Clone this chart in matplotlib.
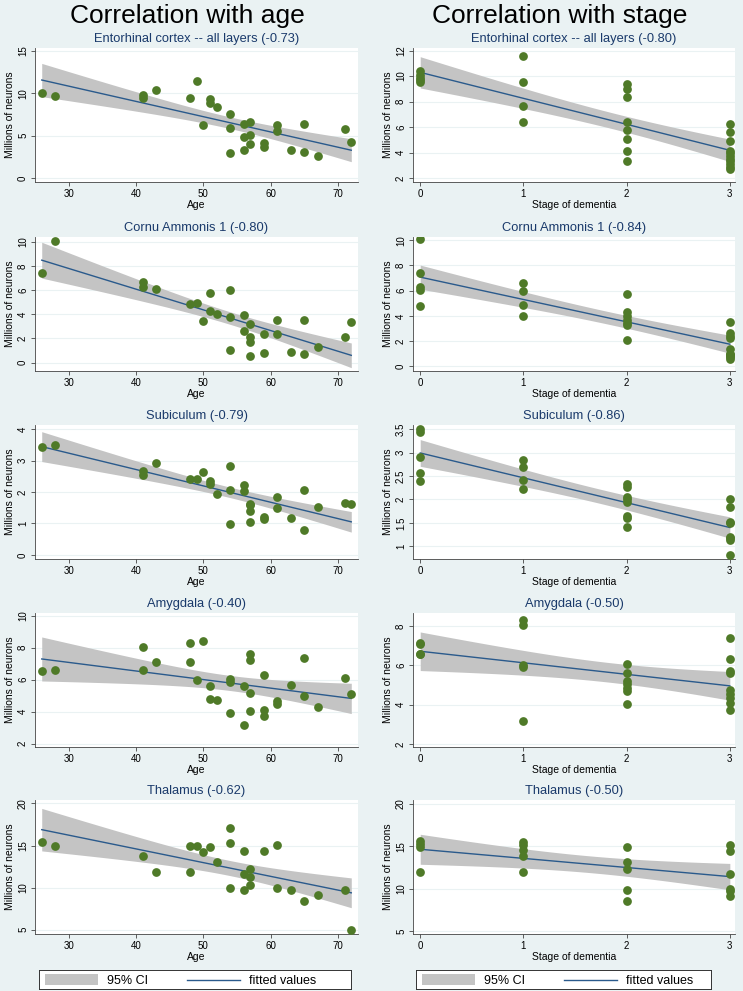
import numpy as np
import matplotlib.pyplot as plt
from matplotlib.patches import Rectangle
from matplotlib.lines import Line2D

plt.rcParams['font.family'] = ['Liberation Sans', 'DejaVu Sans']

# ---- data: correlation with age ----
ent_age = [26, 28, 41, 41, 43, 48, 49, 50, 51, 51, 52, 54, 54, 54, 56, 56, 56,
           57, 57, 57, 59, 59, 61, 61, 63, 65, 65, 67, 71, 72]
ent_age_val = [10.1, 9.68, 9.85, 9.5, 10.4, 9.5, 11.5, 6.28, 9.3, 8.9, 8.4, 7.6,
               5.9, 2.9, 6.36, 4.9, 3.3, 6.6, 5.06, 4.07, 4.15, 3.68, 6.25, 5.6,
               3.28, 6.36, 3.04, 2.65, 5.77, 4.27]

ca1_age = [26, 28, 41, 41, 43, 48, 49, 50, 51, 51, 52, 54, 54, 54, 56, 56, 57,
           57, 57, 57, 59, 59, 61, 61, 63, 65, 65, 67, 71, 72]
ca1_age_val = [7.42, 10.1, 6.64, 6.28, 6.11, 4.86, 4.92, 3.44, 5.78, 4.28, 4.0,
               6.0, 3.75, 1.0, 3.94, 2.58, 3.22, 2.08, 1.69, 0.58, 2.33, 0.78,
               3.5, 2.36, 0.86, 3.56, 0.72, 1.31, 2.14, 3.39]

sub_age = [26, 28, 41, 41, 43, 48, 49, 50, 51, 51, 52, 54, 54, 54, 56, 56, 57,
           57, 57, 57, 59, 59, 61, 61, 63, 65, 65, 67, 71, 72]
sub_age_val = [3.44, 3.5, 2.67, 2.55, 2.91, 2.40, 2.42, 2.65, 2.34, 2.26, 1.94,
               2.84, 2.05, 0.97, 2.22, 2.02, 1.63, 1.59, 1.41, 1.05, 1.2, 1.14,
               1.85, 1.5, 1.17, 2.05, 0.8, 1.52, 1.64, 1.63]

amy_age = [26, 28, 41, 41, 43, 48, 48, 49, 50, 51, 51, 52, 54, 54, 54, 56, 56,
           57, 57, 57, 57, 59, 59, 59, 61, 61, 63, 65, 65, 67, 71, 72]
amy_age_val = [6.56, 6.58, 8.02, 6.6, 7.09, 8.27, 7.13, 6.0, 8.42, 5.63, 4.81,
               4.73, 6.02, 5.85, 3.92, 5.63, 3.17, 7.6, 7.2, 5.15, 4.04, 6.31,
               4.08, 3.71, 4.69, 4.5, 5.69, 7.35, 5.0, 4.27, 6.08, 5.08]

tha_age = [26, 28, 41, 43, 48, 48, 49, 50, 51, 52, 54, 54, 54, 56, 56, 56, 57,
           57, 57, 59, 61, 61, 63, 65, 67, 71, 72]
tha_age_val = [15.4, 14.9, 13.8, 11.8, 15.0, 11.8, 15.0, 14.25, 14.85, 13.0,
               17.05, 15.3, 9.9, 14.4, 11.6, 9.76, 12.2, 11.25, 10.3, 14.38,
               15.1, 9.92, 9.7, 8.44, 9.1, 9.76, 5.0]

# ---- data: correlation with stage (values per stage 0..3) ----
ent_stage = [[10.4, 10.1, 9.85, 9.68, 9.5],
             [11.55, 9.5, 7.63, 6.39],
             [9.37, 8.95, 8.37, 6.39, 5.79, 5.08, 4.13, 3.37],
             [6.26, 5.6, 4.92, 4.16, 4.0, 3.7, 3.5, 3.37, 3.1, 2.9, 2.7]]
ca1_stage = [[10.07, 7.39, 6.3, 6.04, 4.82],
             [6.62, 5.96, 4.9, 3.97],
             [5.72, 4.32, 4.0, 3.66, 3.45, 3.26, 2.12],
             [3.52, 2.62, 2.41, 2.28, 1.35, 1.0, 0.95, 0.8, 0.74, 0.6]]
sub_stage = [[3.5, 3.44, 2.91, 2.56, 2.4],
             [2.84, 2.69, 2.42, 2.23],
             [2.33, 2.26, 2.05, 2.02, 1.95, 1.65, 1.6, 1.41],
             [2.02, 1.85, 1.52, 1.5, 1.21, 1.17, 1.14, 0.82]]
amy_stage = [[7.15, 7.09, 6.59, 6.56],
             [8.32, 8.05, 6.03, 5.9, 3.17],
             [6.08, 5.63, 5.2, 5.07, 4.86, 4.69, 4.05],
             [7.39, 6.34, 5.69, 5.63, 4.73, 4.56, 4.34, 4.1, 3.71]]
tha_stage = [[15.6, 15.3, 14.9, 11.97],
             [15.5, 15.15, 14.5, 13.8, 11.97],
             [14.9, 13.1, 12.27, 9.84, 8.55],
             [15.1, 14.4, 11.7, 10.0, 9.7, 9.1]]

age_titles = ['Entorhinal cortex -- all layers (-0.73)', 'Cornu Ammonis 1 (-0.80)',
              'Subiculum (-0.79)', 'Amygdala (-0.40)', 'Thalamus (-0.62)']
stage_titles = ['Entorhinal cortex -- all layers (-0.80)', 'Cornu Ammonis 1 (-0.84)',
                'Subiculum (-0.86)', 'Amygdala (-0.50)', 'Thalamus (-0.50)']

age_data = [(ent_age, ent_age_val), (ca1_age, ca1_age_val), (sub_age, sub_age_val),
            (amy_age, amy_age_val), (tha_age, tha_age_val)]
stage_data = [ent_stage, ca1_stage, sub_stage, amy_stage, tha_stage]

age_ylims = [(-0.47, 15.36), (-0.7, 10.4), (-0.13, 4.13), (1.79, 10.17), (4.5, 20.4)]
age_yticks = [[0, 5, 10, 15], [0, 2, 4, 6, 8, 10], [0, 1, 2, 3, 4],
              [2, 4, 6, 8, 10], [5, 10, 15, 20]]
stage_ylims = [(1.7, 12.2), (-0.37, 10.26), (0.73, 3.59), (1.85, 8.66), (4.65, 20.45)]
stage_yticks = [[2, 4, 6, 8, 10, 12], [0, 2, 4, 6, 8, 10],
                [1, 1.5, 2, 2.5, 3, 3.5], [2, 4, 6, 8], [5, 10, 15, 20]]

legend_labels = ['95% CI', 'fitted values']

# colours (Stata-like)
BG = '#eaf2f3'
DOT = '#4f7a28'
FIT = '#2a5a8c'
CI = '#c4c4c4'
TITLE = '#1a3a6b'


def fit_ci(x, y, xs):
    x = np.asarray(x, float)
    y = np.asarray(y, float)
    n = len(x)
    b, a = np.polyfit(x, y, 1)
    resid = y - (a + b * x)
    s = np.sqrt(np.sum(resid ** 2) / (n - 2))
    sxx = np.sum((x - x.mean()) ** 2)
    t = 1.96 + 2.4 / (n - 2)
    yhat = a + b * xs
    se = s * np.sqrt(1.0 / n + (xs - x.mean()) ** 2 / sxx)
    return yhat, yhat - t * se, yhat + t * se


def draw_panel(ax, x, y, xs, title, xlabel, xlim, ylim, yticks, xticks):
    yhat, lo, hi = fit_ci(x, y, xs)
    ax.fill_between(xs, lo, hi, color=CI, lw=0, zorder=2)
    ax.plot(xs, yhat, color=FIT, lw=1.0, zorder=3)
    ax.plot(x, y, 'o', color=DOT, markersize=6.3, markeredgewidth=0, zorder=4)
    ax.set_xlim(xlim)
    ax.set_ylim(ylim)
    ax.set_xticks(xticks)
    ax.set_yticks(yticks)
    ax.set_yticklabels([('%g' % v) for v in yticks], rotation=90, va='center')
    for v in yticks:
        ax.axhline(v, color=BG, lw=0.8, zorder=1)
    ax.set_title(title, fontsize=9.3, color=TITLE, pad=4)
    ax.set_xlabel(xlabel, fontsize=7.5, labelpad=1)
    ax.set_ylabel('Millions of neurons', fontsize=7.5, labelpad=2)
    ax.tick_params(labelsize=7, length=3, width=0.6, color='#444444', pad=2)
    ax.spines['top'].set_visible(False)
    ax.spines['right'].set_visible(False)
    for sp in ('left', 'bottom'):
        ax.spines[sp].set_color('#444444')
        ax.spines[sp].set_linewidth(0.6)
    ax.set_facecolor('white')


W, H = 743, 991
fig = plt.figure(figsize=(W / 100, H / 100), dpi=100, facecolor=BG)

row_top = [48, 237, 425, 613, 800]
row_bot = [182, 371, 559, 747, 934]
cols = [(35, 358), (413, 735)]


def px_axes(x0, x1, top, bot):
    return fig.add_axes([x0 / W, 1 - bot / H, (x1 - x0) / W, (bot - top) / H])


for i in range(5):
    ax = px_axes(cols[0][0], cols[0][1], row_top[i], row_bot[i])
    ages, vals = age_data[i]
    xs = np.linspace(min(ages), max(ages), 200)
    draw_panel(ax, ages, vals, xs, age_titles[i], 'Age', (25, 73),
               age_ylims[i], age_yticks[i], [30, 40, 50, 60, 70])

    ax = px_axes(cols[1][0], cols[1][1], row_top[i], row_bot[i])
    sx, sy = [], []
    for stage, group in enumerate(stage_data[i]):
        sx += [stage] * len(group)
        sy += group
    xs = np.linspace(0, 3, 200)
    draw_panel(ax, sx, sy, xs, stage_titles[i], 'Stage of dementia', (-0.07, 3.05),
               stage_ylims[i], stage_yticks[i], [0, 1, 2, 3])

fig.text(187 / W, 1 - 16 / H, 'Correlation with age', ha='center', va='center', fontsize=19)
fig.text(560 / W, 1 - 16 / H, 'Correlation with stage', ha='center', va='center', fontsize=19)

# legend boxes below each column (Stata style)
for lx0, lx1 in [(39, 351), (416, 711)]:
    lw_px = lx1 - lx0
    lax = px_axes(lx0, lx1, 970, 989)
    lax.set_xlim(0, lw_px)
    lax.set_ylim(0, 1)
    lax.set_xticks([])
    lax.set_yticks([])
    lax.set_facecolor('white')
    for sp in lax.spines.values():
        sp.set_color('#333333')
        sp.set_linewidth(0.7)
    lax.add_patch(Rectangle((6, 0.22), 53, 0.56, facecolor=CI, edgecolor='none'))
    lax.text(68, 0.5, legend_labels[0], va='center_baseline', ha='left', fontsize=9)
    lax.add_line(Line2D([148, 201], [0.5, 0.5], color=FIT, lw=1.0))
    lax.text(210, 0.5, legend_labels[1], va='center_baseline', ha='left', fontsize=9)

plt.savefig('out.png', dpi=100, facecolor=BG)
